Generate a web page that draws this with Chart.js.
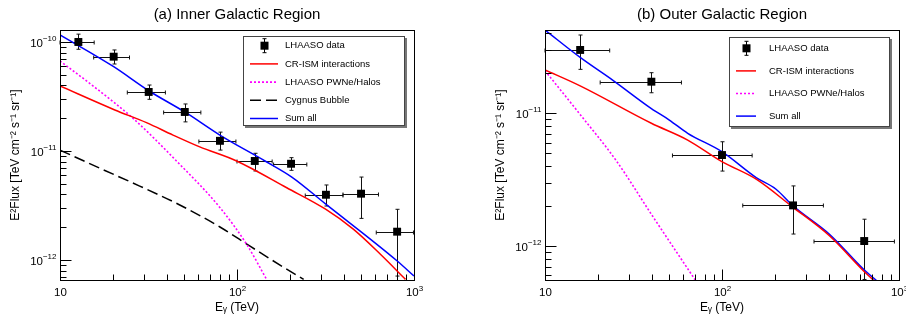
<!DOCTYPE html>
<html>
<head>
<meta charset="utf-8">
<script src="https://cdn.jsdelivr.net/npm/chart.js@4.4.0/dist/chart.umd.min.js"></script>
<style>
  body { margin: 0; background: #fff; }
  #wrap { position: relative; width: 906px; height: 322px; overflow: hidden; }
  canvas { position: absolute; top: 0; }
</style>
</head>
<body>
<div id="wrap">
  <canvas id="inner" width="453" height="322" style="left:0"></canvas>
  <canvas id="outer" width="453" height="322" style="left:453px"></canvas>
</div>
<script>
const FONT = '"Liberation Sans", Arial, Helvetica, sans-serif';

// (a) inner region - LHAASO points
const innerE   = [12.7, 20.1, 31.7, 50.7, 80.1, 126, 202, 318, 502, 803];
const innerF   = [1.0e-10, 7.33e-11, 3.48e-11, 2.28e-11, 1.24e-11, 8.1e-12, 7.64e-12, 3.97e-12, 4.06e-12, 1.82e-12];
const innerElo = [10, 15.5, 24.0, 38.5, 60.9, 100, 161, 243, 397, 612];
const innerEhi = [15.6, 24.7, 39.4, 62.5, 98.6, 158, 248, 397, 630, 993];
const innerFlo = [8.57e-11, 6.28e-11, 2.98e-11, 1.85e-11, 1.02e-11, 6.56e-12, 6.65e-12, 3.13e-12, 2.41e-12, 7.13e-13];
const innerFhi = [1.18e-10, 8.45e-11, 4.03e-11, 2.70e-11, 1.49e-11, 9.53e-12, 8.69e-12, 4.88e-12, 5.77e-12, 2.92e-12];

// (a) model curves
const innerCrE  = [10, 20.4, 30.8, 43.5, 61.6, 99.5, 191, 315, 454, 646, 895];
const innerCrF  = [3.95e-11, 2.38e-11, 1.82e-11, 1.40e-11, 1.09e-11, 8.1e-12, 4.6e-12, 2.94e-12, 1.92e-12, 1.13e-12, 6.65e-13];
const innerPwnE = [10, 16.0, 25.8, 45.5, 80.2, 113.5, 147];
const innerPwnF = [6.69e-11, 3.76e-11, 2.0e-11, 8.1e-12, 3.02e-12, 1.39e-12, 6.65e-13];
const innerCygE = [10, 16.7, 28.2, 47.5, 80.1, 118.5, 175, 238];
const innerCygF = [1.02e-11, 6.98e-12, 4.77e-12, 3.2e-12, 2.01e-12, 1.34e-12, 8.99e-13, 6.65e-13];
const innerSumE = [10, 20.1, 31.7, 50.7, 80, 144, 204, 315, 804, 1000];
const innerSumF = [1.16e-10, 5.93e-11, 3.57e-11, 2.28e-11, 1.40e-11, 8.1e-12, 5.77e-12, 3.29e-12, 9.8e-13, 7.13e-13];

// (b) outer region - LHAASO points
const outerE   = [15.8, 39.9, 100, 252, 636];
const outerF   = [2.98e-11, 1.72e-11, 4.83e-12, 2.02e-12, 1.09e-12];
const outerElo = [10, 20.5, 52.5, 131, 331];
const outerEhi = [23.2, 59, 148, 374, 942];
const outerFlo = [2.13e-11, 1.42e-11, 3.66e-12, 1.23e-12, 5.6e-13];
const outerFhi = [3.86e-11, 2.01e-11, 6.08e-12, 2.83e-12, 1.59e-12];

// (b) model curves
const outerCrE  = [10, 15.8, 39.9, 64, 99.8, 156, 250, 406, 631, 719];
const outerCrF  = [2.11e-11, 1.60e-11, 8.37e-12, 6.26e-12, 4.31e-12, 3.18e-12, 1.97e-12, 1.19e-12, 6.49e-13, 5.52e-13];
const outerPwnE = [10, 15.6, 25.2, 40.5, 70.8];
const outerPwnF = [2.08e-11, 9.95e-12, 4.40e-12, 1.68e-12, 5.52e-13];
const outerSumE = [10, 15.8, 24.1, 39.9, 50.4, 64, 99.8, 156, 202, 250, 406, 631, 744];
const outerSumF = [4.21e-11, 2.62e-11, 1.77e-11, 1.08e-11, 8.86e-12, 7.04e-12, 5.12e-12, 3.27e-12, 2.67e-12, 2.02e-12, 1.22e-12, 6.68e-13, 5.52e-13];

const xRange = [10, 1000];
const innerYRange = [6.56e-13, 1.288e-10];
const outerYRange = [5.55e-13, 4.21e-11];

function pts(xs, ys) {
    return xs.map((x, i) => ({ x: x, y: ys[i] }));
}

function logTicks(min, max) {
    const out = [];
    for (let e = Math.floor(Math.log10(min)); e <= Math.ceil(Math.log10(max)); e++) {
        for (let k = 1; k <= 9; k++) {
            const v = k * Math.pow(10, e);
            if (v >= min * 0.9999 && v <= max * 1.0001) out.push({ v: v, e: e, major: k === 1 });
        }
    }
    return out;
}

// ROOT style "10^n" label, base plus raised exponent
function powLabel(ctx, x, y, e, align) {
    const sup = e === 1 ? '' : String(e).replace('-', '\u2212');
    ctx.font = '11.5px ' + FONT;
    const wb = ctx.measureText('10').width;
    ctx.font = '8px ' + FONT;
    const ws = sup ? ctx.measureText(sup).width : 0;
    const x0 = align === 'right' ? x - wb - ws : x - (wb + ws) / 2;
    ctx.textAlign = 'left';
    ctx.textBaseline = 'middle';
    ctx.font = '11.5px ' + FONT;
    ctx.fillText('10', x0, y);
    if (sup) {
        ctx.font = '8px ' + FONT;
        ctx.fillText(sup, x0 + wb, y - 4.5);
    }
}

const errorBars = {
    id: 'errorBars',
    beforeDatasetsDraw(chart, args, o) {
        const { ctx, scales: { x, y } } = chart;
        ctx.save();
        ctx.strokeStyle = '#111';
        ctx.lineWidth = 1;
        ctx.beginPath();
        o.e.forEach((e, i) => {
            const px = Math.round(x.getPixelForValue(e)) + 0.5;
            const py = Math.round(y.getPixelForValue(o.f[i])) + 0.5;
            const x1 = x.getPixelForValue(o.elo[i]), x2 = x.getPixelForValue(o.ehi[i]);
            const y1 = y.getPixelForValue(o.fhi[i]), y2 = y.getPixelForValue(o.flo[i]);
            ctx.moveTo(x1, py); ctx.lineTo(x2, py);
            ctx.moveTo(x1, py - 2); ctx.lineTo(x1, py + 2);
            ctx.moveTo(x2, py - 2); ctx.lineTo(x2, py + 2);
            ctx.moveTo(px, y1); ctx.lineTo(px, y2);
            ctx.moveTo(px - 2, y1); ctx.lineTo(px + 2, y1);
            ctx.moveTo(px - 2, y2); ctx.lineTo(px + 2, y2);
        });
        ctx.stroke();
        ctx.restore();
    }
};

const rootFrame = {
    id: 'rootFrame',
    afterDatasetsDraw(chart) {
        const { ctx, chartArea: a, scales: { x, y } } = chart;
        ctx.save();
        ctx.strokeStyle = '#000';
        ctx.lineWidth = 1;
        const l = Math.round(a.left) + 0.5, b = Math.round(a.bottom) + 0.5;
        const r = Math.round(a.right) + 0.5, t = Math.round(a.top) + 0.5;
        ctx.strokeRect(l, t, r - l, b - t);
        ctx.beginPath();
        const yt = logTicks(y.min, y.max), xt = logTicks(x.min, x.max);
        yt.forEach(tk => {
            const py = Math.round(y.getPixelForValue(tk.v)) + 0.5;
            ctx.moveTo(l, py); ctx.lineTo(l + (tk.major ? 11 : 6), py);
        });
        xt.forEach(tk => {
            const px = Math.round(x.getPixelForValue(tk.v)) + 0.5;
            ctx.moveTo(px, b); ctx.lineTo(px, b - (tk.major ? 11 : 6));
        });
        ctx.stroke();
        ctx.fillStyle = '#000';
        yt.filter(tk => tk.major).forEach(tk => {
            powLabel(ctx, a.left - 3.5, y.getPixelForValue(tk.v) + 1.5, tk.e, 'right');
        });
        xt.filter(tk => tk.major).forEach(tk => {
            powLabel(ctx, x.getPixelForValue(tk.v) + 0.5, a.bottom + 13, tk.e, 'center');
        });
        ctx.restore();
    }
};

const rootLegend = {
    id: 'rootLegend',
    afterDraw(chart, args, o) {
        const ctx = chart.ctx;
        ctx.save();
        ctx.fillStyle = '#777';
        ctx.fillRect(o.x + 2, o.y + 2, o.w, o.h);
        ctx.fillStyle = '#fff';
        ctx.fillRect(o.x, o.y, o.w, o.h);
        ctx.strokeStyle = '#444';
        ctx.lineWidth = 1;
        ctx.strokeRect(o.x + 0.5, o.y + 0.5, o.w - 1, o.h - 1);
        ctx.font = '9.5px ' + FONT;
        ctx.textBaseline = 'middle';
        o.items.forEach((it, i) => {
            const yy = o.y0 + i * o.dy;
            if (it.marker) {
                const mx = Math.round((o.s1 + o.s2) / 2) + 0.5;
                ctx.strokeStyle = '#000';
                ctx.setLineDash([]);
                ctx.lineWidth = 1;
                ctx.beginPath();
                ctx.moveTo(mx, yy - 7); ctx.lineTo(mx, yy + 7);
                ctx.moveTo(mx - 2, yy - 7); ctx.lineTo(mx + 2, yy - 7);
                ctx.moveTo(mx - 2, yy + 7); ctx.lineTo(mx + 2, yy + 7);
                ctx.stroke();
                ctx.fillStyle = '#000';
                ctx.fillRect(mx - 4, yy - 4, 8, 8);
            } else {
                ctx.strokeStyle = it.color;
                ctx.lineWidth = it.width;
                ctx.setLineDash(it.dash);
                ctx.beginPath();
                ctx.moveTo(o.s1, yy); ctx.lineTo(o.s2, yy);
                ctx.stroke();
            }
            ctx.setLineDash([]);
            ctx.fillStyle = '#000';
            ctx.fillText(it.label, o.tx, yy);
        });
        ctx.restore();
    }
};

const DATA_ITEM = { label: 'LHAASO data', marker: true };
const CR_ITEM = { label: 'CR-ISM interactions', color: '#ff0000', width: 1.5, dash: [] };
const PWN_ITEM = { label: 'LHAASO PWNe/Halos', color: '#ff00ff', width: 1.6, dash: [2, 2] };
const CYG_ITEM = { label: 'Cygnus Bubble', color: '#000000', width: 1.5, dash: [11, 5] };
const SUM_ITEM = { label: 'Sum all', color: '#0000ff', width: 1.5, dash: [] };

function curve(item, xs, ys) {
    return {
        label: item.label,
        data: pts(xs, ys),
        showLine: true,
        borderColor: item.color,
        borderWidth: item.width,
        borderDash: item.dash,
        pointRadius: 0,
        fill: false,
        cubicInterpolationMode: 'monotone'
    };
}

function makePanel(id, cfg) {
    return new Chart(document.getElementById(id), {
        type: 'scatter',
        data: {
            datasets: [{
                label: 'LHAASO data',
                data: pts(cfg.pts.e, cfg.pts.f),
                pointStyle: 'rect',
                pointRadius: 5.6,
                backgroundColor: '#000',
                borderWidth: 0
            }].concat(cfg.curves)
        },
        options: {
            responsive: false,
            animation: false,
            events: [],
            layout: { padding: { left: 0, right: cfg.padRight, top: 0, bottom: 0 }, autoPadding: false },
            plugins: {
                legend: { display: false },
                tooltip: { enabled: false },
                title: {
                    display: true,
                    text: cfg.title,
                    fullSize: false,
                    color: '#000',
                    font: { family: FONT, size: 15, weight: 'normal' },
                    padding: { top: 6, bottom: 6 }
                },
                errorBars: cfg.pts,
                rootLegend: cfg.legend
            },
            scales: {
                x: {
                    type: 'logarithmic',
                    min: xRange[0], max: xRange[1],
                    grid: { display: false },
                    border: { display: false },
                    ticks: { display: false },
                    title: {
                        display: true, text: 'Eᵧ (TeV)', color: '#000',
                        font: { family: FONT, size: 12 },
                        padding: { top: 0, bottom: 7 }
                    },
                    afterFit: s => { s.height = 42; }
                },
                y: {
                    type: 'logarithmic',
                    min: cfg.yRange[0], max: cfg.yRange[1],
                    grid: { display: false },
                    border: { display: false },
                    ticks: { display: false },
                    title: {
                        display: true, text: 'E²Flux [TeV cm⁻² s⁻¹ sr⁻¹]', color: '#000',
                        font: { family: FONT, size: 12 },
                        padding: { top: cfg.yTitlePad, bottom: 0 }
                    },
                    afterFit: s => { s.width = cfg.yWidth; }
                }
            }
        },
        plugins: [errorBars, rootFrame, rootLegend]
    });
}

makePanel('inner', {
    title: '(a) Inner Galactic Region',
    padRight: 39, yWidth: 60, yTitlePad: 8,
    yRange: innerYRange,
    pts: { e: innerE, f: innerF, elo: innerElo, ehi: innerEhi, flo: innerFlo, fhi: innerFhi },
    curves: [
        curve(CR_ITEM, innerCrE, innerCrF),
        curve(PWN_ITEM, innerPwnE, innerPwnF),
        curve(CYG_ITEM, innerCygE, innerCygF),
        curve(SUM_ITEM, innerSumE, innerSumF)
    ],
    legend: {
        x: 243, y: 36, w: 162, h: 90, y0: 45.7, dy: 18.2, s1: 250, s2: 278, tx: 285,
        items: [DATA_ITEM, CR_ITEM, PWN_ITEM, CYG_ITEM, SUM_ITEM]
    }
});

makePanel('outer', {
    title: '(b) Outer Galactic Region',
    padRight: 7, yWidth: 92, yTitlePad: 40,
    yRange: outerYRange,
    pts: { e: outerE, f: outerF, elo: outerElo, ehi: outerEhi, flo: outerFlo, fhi: outerFhi },
    curves: [
        curve(CR_ITEM, outerCrE, outerCrF),
        curve(PWN_ITEM, outerPwnE, outerPwnF),
        curve(SUM_ITEM, outerSumE, outerSumF)
    ],
    legend: {
        x: 276, y: 37, w: 161, h: 90, y0: 48.3, dy: 22.6, s1: 283, s2: 303, tx: 316,
        items: [DATA_ITEM, CR_ITEM, PWN_ITEM, SUM_ITEM]
    }
});
</script>
</body>
</html>
